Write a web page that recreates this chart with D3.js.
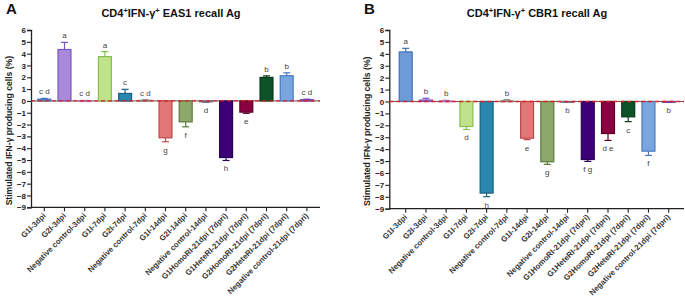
<!DOCTYPE html>
<html><head><meta charset="utf-8">
<script src="https://cdn.jsdelivr.net/npm/d3@7"></script>
<style>body{margin:0;background:#fff;font-family:"Liberation Sans",Arial,sans-serif}</style>
</head><body><svg id="c" width="685" height="305"></svg>
<script>
const categories = ["G1I-3dpi","G2I-3dpi","Negative control-3dpi","G1I-7dpi","G2I-7dpi","Negative control-7dpi","G1I-14dpi","G2I-14dpi","Negative control-14dpi","G1HomoRI-21dpi (7dpri)","G1HeteRI-21dpi (7dpri)","G2HomoRI-21dpi (7dpri)","G2HeteRI-21dpi (7dpri)","Negative control-21dpi (7dpri)"];
const easMeans  = [0.15, 4.35, 0.02, 3.75, 0.63, 0.05, -3.12, -1.77, -0.08, -4.79, -0.95, 1.99, 2.13, 0.1];
const easErrors = [0.06, 0.6, 0.02, 0.42, 0.35, 0.05, 0.33, 0.42, 0.05, 0.25, 0.1, 0.13, 0.25, 0.05];
const easLetters = ["c d","a","c d","a","c","c d","g","f","d","h","e","b","b","c d"];
const cbrMeans  = [4.16, 0.12, 0.05, -2.1, -7.69, 0.05, -3.08, -5.06, -0.04, -4.87, -2.69, -1.29, -4.17, -0.04];
const cbrErrors = [0.3, 0.15, 0.05, 0.25, 0.3, 0.1, 0.12, 0.22, 0.04, 0.16, 0.58, 0.4, 0.36, 0.04];
const cbrLetters = ["a","b","b","d","h","b","e","g","b","f g","d e","c","f","b"];
const yTicks = [6,5,4,3,2,1,0,-1,-2,-3,-4,-5,-6,-7,-8,-9];
const fills   = ["#6f9ad8","#a98ad8","#d8a8dc","#bfe38a","#2a88b0","#c8c8c8","#e07878","#8ca86a","#a8a8c8","#3d0078","#8a0040","#0d5228","#7aa6e0","#a878d8"];
const strokes = ["#3f6fb8","#7a52c0","#b070b8","#86c04a","#1a6080","#888888","#c04848","#5a7a3a","#707090","#2a0055","#5a0028","#063a18","#4a78c0","#7840a8"];

const svg = d3.select("#c");

function panel(o){
  const g = svg.append("g");
  const x = d3.scaleBand().domain(categories).range(o.xr).padding(0);
  const y = d3.scaleLinear().domain([-9,6]).range([o.yb,30]);
  const bw = x.bandwidth()*0.64;
  const ya = g.append("g").attr("transform",`translate(${o.ax},0)`)
    .call(d3.axisLeft(y).tickValues(yTicks).tickSize(4).tickFormat(d3.format("d")));
  ya.select(".domain").attr("stroke","#222").attr("stroke-width",1.3);
  ya.selectAll(".tick line").attr("stroke","#222").attr("stroke-width",1.1);
  ya.selectAll("text").attr("font-size",8).attr("font-weight","bold").attr("fill","#222")
    .attr("font-family","Liberation Sans, Arial").attr("x",-5);
  const xa = g.append("g").attr("transform",`translate(0,${o.yb})`)
    .call(d3.axisBottom(x).tickSize(4).tickSizeOuter(0));
  xa.select(".domain").attr("d",`M${o.ax},0H${o.xend}`).attr("stroke","#222").attr("stroke-width",1.3);
  xa.selectAll(".tick line").attr("stroke","#222").attr("stroke-width",1.1);
  xa.selectAll("text").attr("font-size",7.8).attr("fill","#333").attr("font-weight","bold")
    .attr("font-family","Liberation Sans, Arial")
    .attr("text-anchor","end").attr("dy",0).attr("y",0)
    .attr("transform","translate(2,9) rotate(-45)");
  g.append("line").attr("x1",o.ax).attr("x2",o.xend).attr("y1",y(0)).attr("y2",y(0))
    .attr("stroke","#333").attr("stroke-width",0.8);
  categories.forEach((c,i)=>{
    const v = o.means[i], e = o.errs[i];
    const cx = x(c)+x.bandwidth()/2;
    const top = Math.min(y(v),y(0)), h = Math.abs(y(v)-y(0));
    g.append("rect").attr("x",cx-bw/2).attr("y",top).attr("width",bw).attr("height",Math.max(h,0.8))
      .attr("fill",fills[i]).attr("stroke",strokes[i]).attr("stroke-width",1.2);
    const ve = v>=0 ? v+e : v-e;
    g.append("line").attr("x1",cx).attr("x2",cx).attr("y1",y(v)).attr("y2",y(ve))
      .attr("stroke",strokes[i]).attr("stroke-width",1.2);
    g.append("line").attr("x1",cx-3.5).attr("x2",cx+3.5).attr("y1",y(ve)).attr("y2",y(ve))
      .attr("stroke",strokes[i]).attr("stroke-width",1.2);
    g.append("text").attr("x",cx).attr("y", v>=0 ? y(ve)-4 : y(ve)+11)
      .attr("text-anchor","middle").attr("font-size",8).attr("fill","#444")
      .attr("font-family","Liberation Sans, Arial").text(o.letters[i]);
  });
  g.append("line").attr("x1",o.ax).attr("x2",o.xend).attr("y1",y(0)).attr("y2",y(0))
    .attr("stroke","#e02020").attr("stroke-width",1.3).attr("stroke-dasharray","4,3");
  g.append("text").attr("transform",`translate(${o.ylx},${(o.yb+30)/2+12}) rotate(-90)`)
    .attr("text-anchor","middle").attr("font-size",8.6).attr("font-weight","bold").attr("fill","#222")
    .text("Stimulated IFN-γ producing cells (%)");
  const t = g.append("text").attr("x",o.tx).attr("y",17).attr("text-anchor","middle")
    .attr("font-size",11).attr("font-weight","bold").attr("fill","#111");
  t.append("tspan").text("CD4");
  t.append("tspan").attr("dy",-4).attr("font-size",7.5).text("+");
  t.append("tspan").attr("dy",4).text("IFN-γ");
  t.append("tspan").attr("dy",-4).attr("font-size",7.5).text("+");
  t.append("tspan").attr("dy",4).text(" "+o.ag+" recall Ag");
  g.append("text").attr("x",o.lx).attr("y",14).attr("font-size",15).attr("font-weight","bold")
    .attr("fill","#111").text(o.letter);
}
panel({xr:[34.2,317.0], ax:31, xend:320, yb:207.3, means:easMeans, errs:easErrors, letters:easLetters,
  ylx:12, tx:171, ag:"EAS1", letter:"A", lx:6});
panel({xr:[395.6,678.8], ax:389.3, xend:684, yb:208.7, means:cbrMeans, errs:cbrErrors, letters:cbrLetters,
  ylx:370, tx:537, ag:"CBR1", letter:"B", lx:364});
</script></body></html>
